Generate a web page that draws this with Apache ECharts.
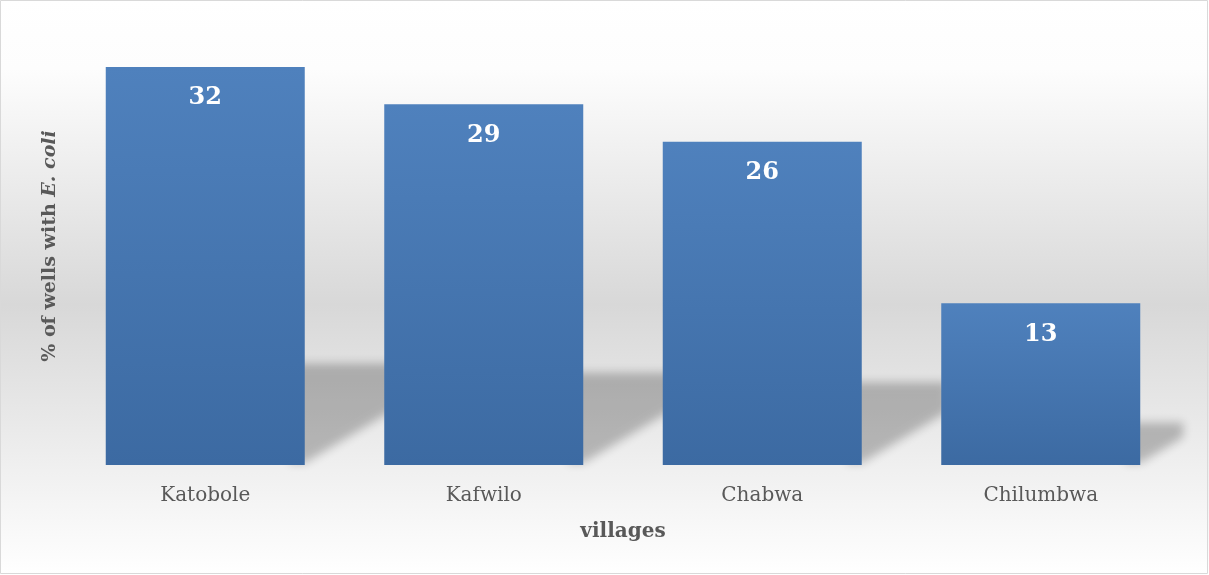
<!DOCTYPE html>
<html>
<head>
<meta charset="utf-8">
<script src="https://cdn.jsdelivr.net/npm/echarts@6/dist/echarts.min.js"></script>
<style>
  html, body { margin: 0; padding: 0; background: #fff; }
  #chart { width: 1209px; height: 575px; }
</style>
</head>
<body>
<div id="chart"></div>
<script>
// Share of wells with E. coli contamination, by village
const villages = ['Katobole', 'Kafwilo', 'Chabwa', 'Chilumbwa'];
const ecoliPercent = [32, 29, 26, 13];

const TEXT = '#595959';
const SERIF = '"DejaVu Serif", "Liberation Serif", serif';
const BAR_WIDTH = 199;

// floor shadow cast to the right of each bar
const SHADOW_HEIGHT = 0.25;  // shadow height as a share of bar height
const SHADOW_REACH = 0.265;  // how far it reaches past the bar, share of bar height
const SHADOW_SLOPE = 0.6;    // rise of the lower diagonal edge
const FAR = 3000;            // shape is drawn off-canvas, only its blurred shadow lands in view

const chart = echarts.init(document.getElementById('chart'), null, { renderer: 'canvas' });

chart.setOption({
  backgroundColor: new echarts.graphic.LinearGradient(0, 0, 0, 1, [
    { offset: 0, color: '#ffffff' },
    { offset: 0.12, color: '#fdfdfd' },
    { offset: 0.53, color: '#d8d8d8' },
    { offset: 1, color: '#ffffff' }
  ]),
  animation: false,
  grid: { left: 66, right: 29, top: 67, bottom: 110, containLabel: false },
  xAxis: {
    type: 'category',
    data: villages,
    axisLine: { show: false },
    axisTick: { show: false },
    axisLabel: { color: TEXT, fontFamily: SERIF, fontSize: 20, margin: 21 },
    name: 'villages',
    nameLocation: 'middle',
    nameGap: 57,
    nameTextStyle: { color: TEXT, fontFamily: SERIF, fontSize: 20, fontWeight: 'bold' }
  },
  yAxis: {
    type: 'value',
    min: 0,
    max: 32,
    show: true,
    axisLine: { show: false },
    axisTick: { show: false },
    axisLabel: { show: false },
    splitLine: { show: false },
    name: '{n|% of wells with }{i|E. coli}',
    nameLocation: 'middle',
    nameGap: 6,
    nameTextStyle: {
      padding: [0, 0, 0, 40],
      rich: {
        n: { color: TEXT, fontFamily: SERIF, fontSize: 19, fontWeight: 'bold' },
        i: { color: TEXT, fontFamily: SERIF, fontSize: 19, fontWeight: 'bold', fontStyle: 'italic' }
      }
    }
  },
  graphic: [{
    type: 'rect',
    shape: { x: 0.5, y: 0.5, width: 1207, height: 573 },
    style: { fill: 'none', stroke: '#d9d9d9', lineWidth: 1 },
    silent: true,
    z: 100
  }],
  series: [
    {
      type: 'custom',
      z: 1,
      silent: true,
      data: villages.map((v, i) => [i, ecoliPercent[i]]),
      renderItem(params, api) {
        const base = api.coord([api.value(0), 0]);
        const top = api.coord([api.value(0), api.value(1)]);
        const h = base[1] - top[1];
        const x1 = base[0] + BAR_WIDTH / 2;
        const y = base[1] - 2;
        const sh = SHADOW_HEIGHT * h;
        const reach = SHADOW_REACH * h;
        const rise = Math.min(SHADOW_SLOPE * reach, sh);
        return {
          type: 'polygon',
          shape: {
            points: [
              [x1 - 15 - FAR, y],
              [x1 - FAR, y],
              [x1 + reach - FAR, y - rise],
              [x1 + reach - FAR, y - sh],
              [x1 - 15 - FAR, y - sh]
            ]
          },
          style: {
            fill: '#000',
            shadowColor: 'rgba(0,0,0,0.24)',
            shadowBlur: 10,
            shadowOffsetX: FAR,
            shadowOffsetY: 0
          }
        };
      }
    },
    {
      type: 'bar',
      z: 2,
      data: ecoliPercent,
      barWidth: BAR_WIDTH,
      itemStyle: {
        color: new echarts.graphic.LinearGradient(0, 0, 0, 1, [
          { offset: 0, color: '#4f81bd' },
          { offset: 1, color: '#3c6aa2' }
        ])
      },
      label: {
        show: true,
        position: 'insideTop',
        distance: 19,
        color: '#ffffff',
        fontFamily: SERIF,
        fontSize: 24,
        fontWeight: 'bold'
      }
    }
  ]
});
</script>
</body>
</html>
